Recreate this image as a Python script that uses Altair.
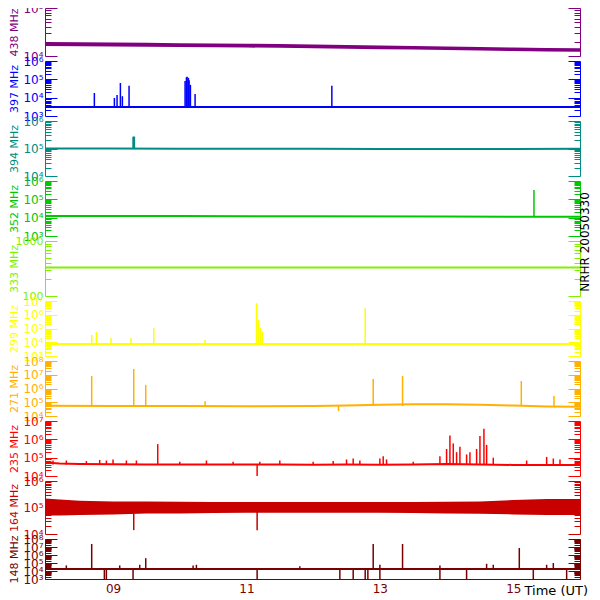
import altair as alt
import pandas as pd

# ---------------- data ----------------
XMIN, XMAX = 7.98, 16.0
W = 535
HEIGHTS = [48, 55, 55, 55, 55, 55, 55, 55, 53, 40]
FONT = "DejaVu Sans"

labels = ["438 MHz", "397 MHz", "394 MHz", "352 MHz", "333 MHz",
          "299 MHz", "271 MHz", "235 MHz", "164 MHz", "148 MHz"]
colors = ["#800080", "#0000ff", "#008c80", "#00c800", "#80f000",
          "#ffff00", "#ffb000", "#ff0000", "#c80000", "#780000"]
y_lo = [1e4, 1e3, 1e4, 1e3, 1e2, 1e3, 1e4, 1e4, 1e4, 1e3]
y_hi = [1e5, 1e6, 1e6, 1e6, 1e3, 1e7, 1e8, 1e7, 1e6, 1e8]

# 438 MHz (noisy band)
b438_t = [7.98, 8.5, 9.0, 9.5, 10.0, 10.5, 11.0, 11.5, 12.0, 12.5, 13.0, 13.5, 14.0, 14.5, 15.0, 15.5, 16.0]
b438_hi = [1.95e4, 1.93e4, 1.9e4, 1.88e4, 1.85e4, 1.82e4, 1.8e4, 1.77e4, 1.74e4, 1.7e4, 1.66e4, 1.62e4, 1.58e4, 1.54e4, 1.5e4, 1.47e4, 1.45e4]
b438_lo = [1.62e4, 1.6e4, 1.58e4, 1.56e4, 1.54e4, 1.52e4, 1.5e4, 1.48e4, 1.45e4, 1.42e4, 1.39e4, 1.36e4, 1.33e4, 1.3e4, 1.27e4, 1.24e4, 1.22e4]

# 397 MHz
l397_t = [7.98, 16.0]
l397_v = [3.1e3, 3.1e3]
s397_t = [8.72, 9.02, 9.06, 9.11, 9.14, 9.24, 10.08, 10.10, 10.11, 10.13, 10.14, 10.16, 10.23, 12.28]
s397_v = [1.8e4, 9.6e3, 1.4e4, 6.3e4, 1.2e4, 4.4e4, 8e4, 1.3e5, 1.4e5, 1.2e5, 9e4, 5e4, 1.6e4, 4.4e4]

# 394 MHz
l394_t = [7.98, 9.0, 10.0, 11.0, 12.0, 13.0, 14.0, 15.0, 16.0]
l394_v = [1.0e5, 1.0e5, 0.98e5, 0.97e5, 0.97e5, 0.96e5, 0.96e5, 0.96e5, 0.97e5]
s394_t = [9.30, 9.31, 9.32]
s394_v = [2.7e5, 2.7e5, 2.7e5]

# 352 MHz
l352_t = [7.98, 10.0, 12.0, 14.0, 16.0]
l352_v = [1.25e4, 1.22e4, 1.2e4, 1.15e4, 1.12e4]
s352_t = [15.31]
s352_v = [3.2e5]

# 333 MHz
l333_t = [7.98, 16.0]
l333_v = [330, 330]

# 299 MHz
l299_t = [7.98, 16.0]
l299_v = [7.5e3, 7.5e3]
s299_t = [8.68, 8.75, 8.97, 9.27, 9.61, 10.38, 11.15, 11.18, 11.21, 11.24, 12.78]
s299_v = [3.4e4, 5.6e4, 2e4, 2e4, 1.1e5, 1.5e4, 7e6, 4e5, 1.1e5, 6e4, 3e6]

# 271 MHz
l271_t = [7.98, 9.0, 10.0, 11.0, 12.0, 12.5, 13.0, 13.5, 14.0, 14.5, 15.0, 15.5, 16.0]
l271_v = [5.5e4, 5.3e4, 5.3e4, 5.2e4, 5.3e4, 5.8e4, 6.6e4, 7.2e4, 7.2e4, 6.6e4, 5.8e4, 5e4, 4.8e4]
s271_t = [8.68, 9.31, 9.49, 10.38, 12.9, 13.34, 15.12, 15.61]
s271_v = [8e6, 2.6e7, 1.8e6, 1.2e5, 4.9e6, 8e6, 3.5e6, 2.8e5]
d271_t = [12.38]
d271_v = [2.3e4]

# 235 MHz
l235_t = [7.98, 8.2, 8.5, 9.0, 9.5, 10.0, 10.5, 11.0, 11.5, 12.0, 12.5, 13.0, 13.5, 14.0, 14.5, 15.0, 15.5, 16.0]
l235_v = [5.5e4, 4.8e4, 4.5e4, 4.4e4, 4.3e4, 4.3e4, 4.2e4, 4.2e4, 4.2e4, 4.1e4, 4.2e4, 4.1e4, 4.2e4, 4.5e4, 4.3e4, 4.0e4, 4.0e4, 4.0e4]
s235_t = [8.1, 8.3, 8.6, 8.8, 8.9, 9.0, 9.2, 9.35, 9.67, 10.0, 10.4, 10.8, 11.2, 11.5, 12.0, 12.3, 12.5, 12.6, 12.7,
          13.0, 13.05, 13.1, 13.5, 13.9, 14.0, 14.05, 14.1, 14.15, 14.2, 14.3, 14.35, 14.45, 14.5, 14.56, 14.6, 14.7,
          15.2, 15.5, 15.6, 15.7]
s235_v = [7e4, 7e4, 6.5e4, 7.5e4, 7e4, 8e4, 7e4, 7e4, 5.5e5, 6e4, 7e4, 6e4, 6e4, 7e4, 6e4, 6.5e4, 8e4, 9e4, 7e4,
          9e4, 1.2e5, 8e4, 6e4, 1.2e5, 3e5, 1.6e6, 6e5, 2e5, 4e5, 1.5e5, 2e5, 3e5, 1.5e6, 3.8e6, 5e5, 1e5,
          7e4, 1.1e5, 9e4, 8e4]
d235_t = [11.16]
d235_v = [1.0e4]

# 164 MHz (noisy band)
b164_t = [7.98, 8.2, 8.5, 9.0, 9.5, 10.0, 10.5, 11.0, 11.5, 12.0, 12.5, 13.0, 13.5, 14.0, 14.5, 15.0, 15.5, 16.0]
b164_hi = [2.2e5, 2.0e5, 1.8e5, 1.7e5, 1.7e5, 1.65e5, 1.6e5, 1.6e5, 1.6e5, 1.6e5, 1.6e5, 1.6e5, 1.6e5, 1.65e5, 1.7e5, 1.9e5, 2.1e5, 2.1e5]
b164_lo = [5e4, 5e4, 5.2e4, 5.5e4, 6e4, 6e4, 6.2e4, 6.4e4, 6.4e4, 6.4e4, 6.4e4, 6.4e4, 6.2e4, 6e4, 5.8e4, 5.5e4, 5.2e4, 5.2e4]
d164_t = [9.31, 11.16]
d164_v = [1.4e4, 1.4e4]

# 148 MHz
l148_t = [7.98, 16.0]
l148_v = [1.8e4, 1.8e4]
s148_t = [8.3, 8.68, 9.1, 9.4, 9.49, 10.2, 10.25, 11.8, 12.9, 13.0, 13.34, 13.9, 14.6, 14.7, 15.09, 15.5, 15.6]
s148_v = [5e4, 2.4e7, 5e4, 6e4, 4e5, 5e4, 6e4, 4e4, 2.4e7, 6e4, 2.4e7, 5e4, 8e4, 6e4, 7.5e6, 6e4, 1e5]
d148_t = [8.87, 8.90, 9.3, 11.16, 12.4, 12.6, 12.78, 12.82, 13.0, 13.9, 14.3, 15.3, 15.8]
d148_v = [1e3] * 13

x_ticks = [9, 11, 13, 15]

# ---------------- chart ----------------
SUPS = "['⁰','¹','²','³','⁴','⁵','⁶','⁷','⁸','⁹']"
DEC_TEST = "abs(log(datum.value)/LN10 - round(log(datum.value)/LN10)) < 0.001"
TICK_SIZE = {"condition": {"test": DEC_TEST, "value": 12}, "value": 6}


def tick_lists(lo, hi):
    import math
    e0, e1 = int(round(math.log10(lo))), int(round(math.log10(hi)))
    dec = [10.0 ** k for k in range(e0, e1 + 1)]
    allt = [m * 10.0 ** k for k in range(e0, e1) for m in range(1, 10)] + [10.0 ** e1]
    return dec, allt


def panel(i, line=None, band=None, spikes=None, dips=None, bottom=False, extra=None):
    color = colors[i]
    h = HEIGHTS[i]
    dec, allt = tick_lists(y_lo[i], y_hi[i])
    ysc = alt.Scale(type="log", domain=[y_lo[i], y_hi[i]], nice=False)
    if i == 4:
        lexpr = "format(datum.value, 'd')"
        lsize = 11
    else:
        lexpr = "'10' + " + SUPS + "[round(log(datum.value)/LN10)]"
        lsize = 12
    if bottom:
        xax = alt.Axis(values=x_ticks, labelExpr="datum.value < 10 ? '0' + datum.value : '' + datum.value",
                       ticks=False, domain=True, domainColor=color, labelColor=color, labelFont=FONT,
                       labelFontSize=12, labelPadding=4, labelFlush=False, grid=False,
                       title="Time (UT)", titleColor="black", titleFont=FONT, titleFontSize=13,
                       titleFontWeight="normal", titleAlign="left", titleX=W - 56, titleY=15,
                       titleBaseline="alphabetic")
    else:
        xax = None
    xsc = alt.Scale(domain=[XMIN, XMAX], nice=False, zero=False)

    main_axis = alt.Axis(title=labels[i], titleColor=color, titleFont=FONT, titleFontSize=11,
                         titleFontWeight="normal", titleX=-26, titleY=h / 2, titleAngle=270,
                         titleAlign="center", titleBaseline="bottom",
                         values=dec, labelExpr=lexpr, labelColor=color, labelFont=FONT,
                         labelFontSize=lsize, labelOverlap=False, labelPadding=2, labelFlush=False,
                         labelBaseline="middle",
                         ticks=False, domain=True, domainColor=color, grid=False)
    inl_axis = alt.Axis(orient="right", offset=-W, values=allt, labels=False, domain=False,
                        ticks=True, tickColor=color, tickSize=TICK_SIZE, title=None, grid=False)
    r_axis = alt.Axis(orient="left", offset=-W, values=allt, labels=False, domain=True,
                      domainColor=color, ticks=True, tickColor=color, tickSize=TICK_SIZE,
                      title=None, grid=False)

    layers = []
    if band is not None:
        bt, bhi, blo = band
        bdf = pd.DataFrame({"t": bt, "hi": bhi, "lo": blo})
        base = alt.Chart(bdf)
        layers.append(base.mark_area(color=color, opacity=1).encode(
            x=alt.X("t:Q", scale=xsc, axis=xax),
            y=alt.Y("hi:Q", scale=ysc, axis=main_axis),
            y2="lo:Q"))
        carrier_df, yfield = bdf, "hi"
    else:
        lt, lv = line
        ldf = pd.DataFrame({"t": lt, "v": lv})
        base = alt.Chart(ldf)
        layers.append(base.mark_line(color=color, strokeWidth=2).encode(
            x=alt.X("t:Q", scale=xsc, axis=xax),
            y=alt.Y("v:Q", scale=ysc, axis=main_axis)))
        carrier_df, yfield = ldf, "v"

    for lbl, ax in (("inl", inl_axis), ("r", r_axis)):
        layers.append(alt.Chart(carrier_df).mark_line(opacity=0).encode(
            x=alt.X("t:Q", scale=xsc, axis=None),
            y=alt.Y(f"{yfield}:Q", scale=ysc, axis=ax)))

    for group in (spikes, dips):
        if group is None:
            continue
        st, slo, shi = group
        sdf = pd.DataFrame({"t": st, "lo": slo, "hi": shi})
        layers.append(alt.Chart(sdf).mark_rule(color=color, strokeWidth=1.5).encode(
            x=alt.X("t:Q", scale=xsc, axis=None),
            y=alt.Y("lo:Q", scale=ysc, axis=None),
            y2="hi:Q"))
    if extra is not None:
        layers.append(extra)

    return alt.layer(*layers).resolve_axis(x="independent", y="independent").properties(width=W, height=h)


def base_at(val, n):
    return [val] * n


p = []
p.append(panel(0, band=(b438_t, b438_hi, b438_lo)))
p.append(panel(1, line=(l397_t, l397_v), spikes=(s397_t, base_at(3.1e3, len(s397_t)), s397_v)))
p.append(panel(2, line=(l394_t, l394_v), spikes=(s394_t, base_at(1.0e5, len(s394_t)), s394_v)))
p.append(panel(3, line=(l352_t, l352_v), spikes=(s352_t, base_at(1.13e4, len(s352_t)), s352_v)))
nrhr = alt.Chart(pd.DataFrame({"s": ["NRHR 20050330"]})).mark_text(
    angle=270, font=FONT, fontSize=12, color="black", align="center", baseline="middle"
).encode(x=alt.value(W + 5), y=alt.value(1), text="s:N")
p.append(panel(4, line=(l333_t, l333_v), extra=nrhr))
p.append(panel(5, line=(l299_t, l299_v), spikes=(s299_t, base_at(7.5e3, len(s299_t)), s299_v)))
p.append(panel(6, line=(l271_t, l271_v), spikes=(s271_t, base_at(5.3e4, len(s271_t)), s271_v),
               dips=(d271_t, d271_v, base_at(5.3e4, len(d271_t)))))
p.append(panel(7, line=(l235_t, l235_v), spikes=(s235_t, base_at(4.2e4, len(s235_t)), s235_v),
               dips=(d235_t, d235_v, base_at(4.2e4, len(d235_t)))))
p.append(panel(8, band=(b164_t, b164_hi, b164_lo), dips=(d164_t, d164_v, base_at(1e5, len(d164_t)))))
p.append(panel(9, line=(l148_t, l148_v), spikes=(s148_t, base_at(1.8e4, len(s148_t)), s148_v),
               dips=(d148_t, d148_v, base_at(1.8e4, len(d148_t))), bottom=True))

chart = alt.vconcat(*p, spacing=5, bounds="flush").properties(
    padding={"top": -6, "left": 0, "right": 0, "bottom": 22}
).configure_view(stroke=None)
chart.save("out.html", embed_options={"renderer": "svg", "actions": False})
